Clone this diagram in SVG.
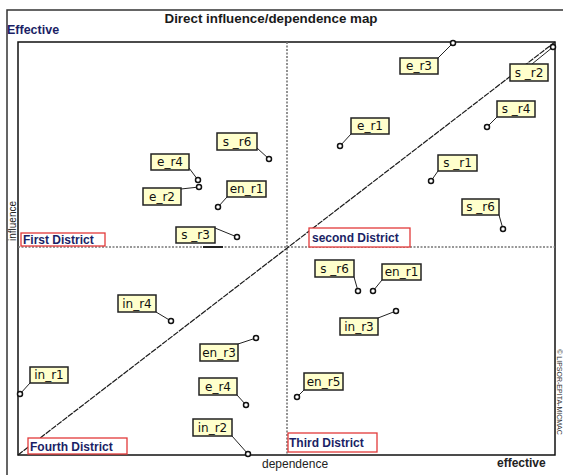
<svg xmlns="http://www.w3.org/2000/svg" width="563" height="475" viewBox="0 0 563 475">
  <style>
    .frame { stroke: #333; stroke-width: 1.5; fill: none; }
    .plot { stroke: #111; stroke-width: 1.5; fill: none; }
    .mid { stroke: #777; stroke-width: 1.6; stroke-dasharray: 2 1.5; fill: none; }
    .diag { stroke: #1a1a1a; stroke-width: 1.2; stroke-dasharray: 6 1; fill: none; }
    .box { fill: #ffffcc; stroke: #222; stroke-width: 1.5; }
    .lbl { font-family: "DejaVu Sans", Verdana, sans-serif; font-size: 12px; fill: #111; text-anchor: middle; }
    .lead { stroke: #222; stroke-width: 1; fill: none; }
    .pt { fill: #fff; stroke: #111; stroke-width: 1.5; }
    .dbox { fill: #fff; stroke: #e23a3a; stroke-width: 1.3; }
    .dtxt { font-family: "Liberation Sans", Arial, sans-serif; font-size: 12px; font-weight: bold; fill: #1b1f66; }
    .axis { font-family: "Liberation Sans", Arial, sans-serif; font-size: 12px; fill: #222; }
  </style>

  <rect width="563" height="475" fill="#fff"/>

  <!-- outer frame -->
  <path class="frame" d="M7,475 V10 H563"/>

  <!-- titles and axis names -->
  <text x="271" y="23" text-anchor="middle" font-family="'Liberation Sans', Arial, sans-serif" font-size="13" font-weight="bold" fill="#1a1a1a" textLength="213" lengthAdjust="spacingAndGlyphs">Direct influence/dependence map</text>
  <text x="7" y="34" font-family="'Liberation Sans', Arial, sans-serif" font-size="12.5" font-weight="bold" fill="#1b1f66">Effective</text>
  <text x="262" y="468" class="axis">dependence</text>
  <text x="497" y="467" class="axis" font-weight="bold">effective</text>
  <text transform="translate(16,221) rotate(-90)" font-family="'Liberation Sans', Arial, sans-serif" font-size="10" fill="#222" text-anchor="middle">influence</text>
  <text transform="translate(557,392) rotate(90)" font-family="'Liberation Sans', Arial, sans-serif" font-size="7" fill="#333" text-anchor="middle">© LIPSOR-EPITA-MICMAC</text>

  <!-- plot area -->
  <g id="plot-area">
    <rect class="plot" x="18" y="42" width="537" height="413"/>
    <line class="mid" x1="287" y1="42" x2="287" y2="455"/>
    <line class="mid" x1="18" y1="247" x2="555" y2="247"/>
    <line stroke="#222" stroke-width="2" x1="203" y1="247" x2="223" y2="247"/>
    <line class="diag" x1="18" y1="455" x2="555" y2="42"/>
  </g>

  <!-- district labels -->
  <g id="first-district">
    <rect class="dbox" x="21" y="233" width="84" height="13"/>
    <text class="dtxt" x="23" y="244">First District</text>
  </g>
  <g id="second-district">
    <rect class="dbox" x="309" y="228" width="101" height="19"/>
    <text class="dtxt" x="312" y="242">second District</text>
  </g>
  <g id="third-district">
    <rect class="dbox" x="288" y="433" width="89" height="19"/>
    <text class="dtxt" x="289" y="447">Third District</text>
  </g>
  <g id="fourth-district">
    <rect class="dbox" x="28" y="438" width="99" height="16"/>
    <text class="dtxt" x="30" y="451">Fourth District</text>
  </g>

  <!-- leader lines -->
  <g id="connectors">
    <line class="lead" x1="257" y1="148" x2="269" y2="159"/>
    <line class="lead" x1="189" y1="168" x2="198" y2="180"/>
    <line class="lead" x1="181" y1="189" x2="199" y2="187"/>
    <line class="lead" x1="227" y1="197" x2="218" y2="207"/>
    <line class="lead" x1="215" y1="228" x2="237" y2="237"/>
    <line class="lead" x1="438" y1="58" x2="453" y2="43"/>
    <line class="lead" x1="532" y1="64" x2="553" y2="47"/>
    <line class="lead" x1="497" y1="117" x2="487" y2="127"/>
    <line class="lead" x1="351" y1="134" x2="340" y2="146"/>
    <line class="lead" x1="438" y1="171" x2="431" y2="181"/>
    <line class="lead" x1="499" y1="215" x2="503" y2="229"/>
    <line class="lead" x1="354" y1="277" x2="358" y2="291"/>
    <line class="lead" x1="382" y1="280" x2="373" y2="291"/>
    <line class="lead" x1="378" y1="318" x2="396" y2="311"/>
    <line class="lead" x1="304" y1="390" x2="297" y2="397"/>
    <line class="lead" x1="156" y1="312" x2="171" y2="321"/>
    <line class="lead" x1="238" y1="344" x2="256" y2="338"/>
    <line class="lead" x1="30" y1="383" x2="20" y2="394"/>
    <line class="lead" x1="237" y1="395" x2="246" y2="405"/>
    <line class="lead" x1="232" y1="436" x2="248" y2="454"/>
  </g>

  <!-- variables -->
  <g id="s_r6-1"><circle class="pt" cx="269" cy="159" r="2.5"/><rect class="box" x="217" y="133" width="40" height="17"/><text class="lbl" x="237" y="145.5">s _r6</text></g>
  <g id="e_r4-1"><circle class="pt" cx="198" cy="180" r="2.5"/><rect class="box" x="151" y="154" width="38" height="16"/><text class="lbl" x="170" y="166">e_r4</text></g>
  <g id="e_r2"><circle class="pt" cx="199" cy="187" r="2.5"/><rect class="box" x="143" y="188" width="38" height="17"/><text class="lbl" x="162" y="200.5">e_r2</text></g>
  <g id="en_r1-1"><circle class="pt" cx="218" cy="207" r="2.5"/><rect class="box" x="227" y="181" width="39" height="16"/><text class="lbl" x="246.5" y="193">en_r1</text></g>
  <g id="s_r3"><circle class="pt" cx="237" cy="237" r="2.5"/><rect class="box" x="176" y="227" width="39" height="16"/><text class="lbl" x="195.5" y="239">s _r3</text></g>
  <g id="e_r3"><circle class="pt" cx="453" cy="43" r="2.5"/><rect class="box" x="400" y="58" width="38" height="16"/><text class="lbl" x="419" y="70">e_r3</text></g>
  <g id="s_r2"><circle class="pt" cx="553" cy="47" r="2.5"/><rect class="box" x="510" y="64" width="38" height="17"/><text class="lbl" x="529" y="76.5">s _r2</text></g>
  <g id="s_r4"><circle class="pt" cx="487" cy="127" r="2.5"/><rect class="box" x="497" y="101" width="38" height="16"/><text class="lbl" x="516" y="113">s _r4</text></g>
  <g id="e_r1"><circle class="pt" cx="340" cy="146" r="2.5"/><rect class="box" x="351" y="118" width="38" height="16"/><text class="lbl" x="370" y="130">e_r1</text></g>
  <g id="s_r1"><circle class="pt" cx="431" cy="181" r="2.5"/><rect class="box" x="438" y="155" width="39" height="16"/><text class="lbl" x="457.5" y="167">s _r1</text></g>
  <g id="s_r6-2"><circle class="pt" cx="503" cy="229" r="2.5"/><rect class="box" x="462" y="199" width="37" height="16"/><text class="lbl" x="480.5" y="211">s _r6</text></g>
  <g id="s_r6-3"><circle class="pt" cx="358" cy="291" r="2.5"/><rect class="box" x="315" y="260" width="39" height="17"/><text class="lbl" x="334.5" y="272.5">s _r6</text></g>
  <g id="en_r1-2"><circle class="pt" cx="373" cy="291" r="2.5"/><rect class="box" x="382" y="264" width="39" height="16"/><text class="lbl" x="401.5" y="276">en_r1</text></g>
  <g id="in_r3"><circle class="pt" cx="396" cy="311" r="2.5"/><rect class="box" x="340" y="318" width="38" height="17"/><text class="lbl" x="359" y="330.5">in_r3</text></g>
  <g id="en_r5"><circle class="pt" cx="297" cy="397" r="2.5"/><rect class="box" x="304" y="373" width="39" height="17"/><text class="lbl" x="323.5" y="385.5">en_r5</text></g>
  <g id="in_r4"><circle class="pt" cx="171" cy="321" r="2.5"/><rect class="box" x="118" y="295" width="38" height="17"/><text class="lbl" x="137" y="307.5">in_r4</text></g>
  <g id="en_r3"><circle class="pt" cx="256" cy="338" r="2.5"/><rect class="box" x="200" y="344" width="38" height="17"/><text class="lbl" x="219" y="356.5">en_r3</text></g>
  <g id="in_r1"><circle class="pt" cx="20" cy="394" r="2.5"/><rect class="box" x="30" y="367" width="38" height="16"/><text class="lbl" x="49" y="379">in_r1</text></g>
  <g id="e_r4-2"><circle class="pt" cx="246" cy="405" r="2.5"/><rect class="box" x="199" y="378" width="38" height="17"/><text class="lbl" x="218" y="390.5">e_r4</text></g>
  <g id="in_r2"><circle class="pt" cx="248" cy="454" r="2.5"/><rect class="box" x="193" y="419" width="39" height="17"/><text class="lbl" x="212.5" y="431.5">in_r2</text></g>
</svg>
